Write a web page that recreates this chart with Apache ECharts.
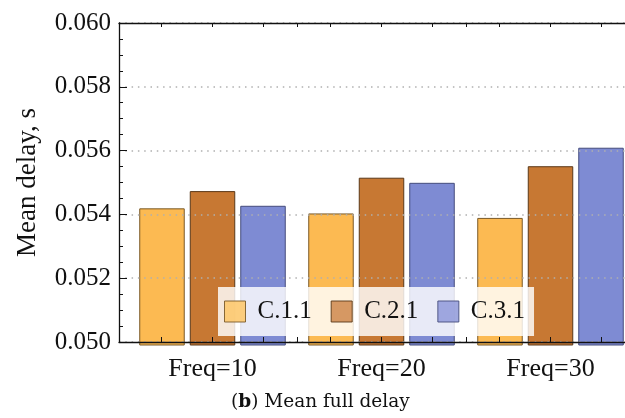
<!DOCTYPE html>
<html>
<head>
<meta charset="utf-8">
<script src="https://cdn.jsdelivr.net/npm/echarts@6/dist/echarts.min.js"></script>
<style>
  html, body { margin: 0; padding: 0; background: #fff; }
  #chart { width: 625px; height: 418px; }
</style>
</head>
<body>
<div id="chart"></div>
<script>
// data
const categories = ['Freq=10', 'Freq=20', 'Freq=30'];
const seriesNames = ['C.1.1', 'C.2.1', 'C.3.1'];
const c11 = [0.05419, 0.05403, 0.05389];
const c21 = [0.05473, 0.05515, 0.05551];
const c31 = [0.05427, 0.05499, 0.05609];
const yMin = 0.050, yMax = 0.060, yStep = 0.002;

const font = '"Liberation Serif", "DejaVu Serif", serif';
const capFont = '"DejaVu Serif", serif';
const fills = ['#FCBA52', '#C77833', '#7E8BD3'];
const borders = ['#7a5a28', '#5a3818', '#454c7c'];
const legendFills = ['#FDC96F', '#D18E55', '#969FDC'];

// tick spots along the category axis (bar centres + group edges), in category units
const tickSpots = [];
for (let g = 0; g < categories.length; g++) {
    if (g > 0) tickSpots.push(g);
    tickSpots.push(g + 0.198, g + 0.5, g + 0.802);
}

const chart = echarts.init(document.getElementById('chart'));

const values = [c11, c21, c31];
const series = seriesNames.map((name, i) => ({
    name: name,
    type: 'bar',
    xAxisIndex: 2,
    yAxisIndex: 1,
    barWidth: 45.5,
    barGap: '11%',
    data: values[i],
    itemStyle: { color: fills[i], borderColor: borders[i], borderWidth: 1 },
    z: 2
}));

chart.setOption({
    animation: false,
    textStyle: { fontFamily: font },
    title: {
        text: '{p|(}{b|b}{p|) Mean full delay}',
        left: 231,
        top: 393,
        padding: 0,
        textStyle: {
            fontWeight: 'normal',
            rich: {
                p: { fontFamily: capFont, fontSize: 18.5, fontWeight: 'normal', color: '#111' },
                b: { fontFamily: capFont, fontSize: 18.5, fontWeight: 'bold', color: '#111' }
            }
        }
    },
    legend: {
        data: seriesNames.map((n, i) => ({
            name: n,
            icon: 'rect',
            itemStyle: { color: legendFills[i], borderColor: borders[i], borderWidth: 1, opacity: 0.9 }
        })),
        left: 218,
        top: 287,
        orient: 'horizontal',
        itemWidth: 21,
        itemHeight: 21,
        itemGap: 19,
        padding: [12, 9, 12, 6],
        backgroundColor: 'rgba(255,255,255,0.82)',
        textStyle: { fontFamily: font, fontSize: 25, color: '#111', padding: [0, 0, 0, 7] },
        selectedMode: false,
        z: 10
    },
    grid: [
        // axes frame + y labels
        { left: 119, width: 530, top: 23, bottom: 76, outerBoundsMode: 'none' },
        // bars (baseline sits a little below the frame)
        { left: 128, width: 507, top: 23, bottom: 73, outerBoundsMode: 'none' },
        // ticks on top/bottom frame
        { left: 128, width: 507, top: 23, bottom: 76, outerBoundsMode: 'none' }
    ],
    xAxis: [
        {
            gridIndex: 0, type: 'value', min: 0, max: 1, position: 'bottom', z: 5,
            axisLine: { show: true, lineStyle: { color: '#111', width: 1.3 } },
            axisTick: { show: false }, axisLabel: { show: false }, splitLine: { show: false }
        },
        {
            gridIndex: 0, type: 'value', min: 0, max: 1, position: 'top', z: 5,
            axisLine: { show: true, lineStyle: { color: '#111', width: 1.3 } },
            axisTick: { show: false }, axisLabel: { show: false }, splitLine: { show: false }
        },
        {
            gridIndex: 1, type: 'category', data: categories, position: 'bottom',
            axisLine: { show: false }, axisTick: { show: false },
            axisLabel: { margin: 11, fontSize: 26, color: '#111', fontFamily: font }
        },
        {
            gridIndex: 2, type: 'value', min: 0, max: 3, position: 'bottom', z: 5,
            axisLine: { show: false }, splitLine: { show: false }, axisLabel: { show: false },
            axisTick: { show: true, inside: true, length: 5, customValues: tickSpots, lineStyle: { color: '#111', width: 1 } }
        },
        {
            gridIndex: 2, type: 'value', min: 0, max: 3, position: 'top', z: 5,
            axisLine: { show: false }, splitLine: { show: false }, axisLabel: { show: false },
            axisTick: { show: true, inside: true, length: 4, customValues: tickSpots, lineStyle: { color: '#111', width: 1 } }
        }
    ],
    yAxis: [
        {
            gridIndex: 0, type: 'value', min: yMin, max: yMax, interval: yStep, z: 5,
            name: 'Mean delay, s',
            nameLocation: 'middle',
            nameGap: 78,
            nameTextStyle: { fontFamily: font, fontSize: 27, color: '#111' },
            axisLine: { show: true, lineStyle: { color: '#111', width: 1.3 } },
            axisTick: { show: true, inside: true, length: 8, lineStyle: { color: '#111' } },
            minorTick: { show: true, splitNumber: 4, length: 4, lineStyle: { color: '#111' } },
            axisLabel: {
                margin: 8, fontSize: 25, color: '#111', fontFamily: font,
                formatter: v => v.toFixed(3)
            },
            splitLine: { show: true, lineStyle: { color: '#b0b0b0', width: 1.5, type: [1.5, 4.8] } }
        },
        {
            gridIndex: 1, type: 'value', min: yMin - 3 / 31900, max: yMax, show: false
        },
        {
            gridIndex: 2, type: 'value', min: yMin, max: yMax, show: false
        }
    ],
    series: series
});
</script>
</body>
</html>
